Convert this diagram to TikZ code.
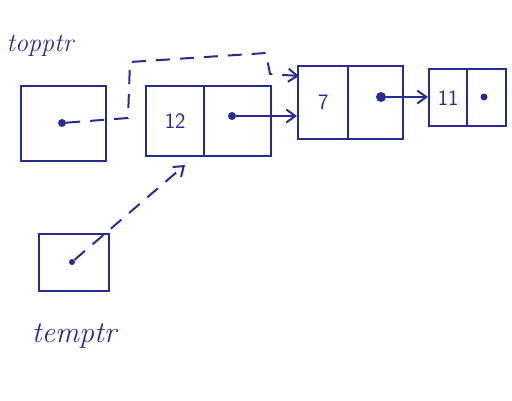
\documentclass[tikz,border=0pt]{standalone}
\usetikzlibrary{arrows.meta}
\definecolor{inkblue}{RGB}{38,44,150}
\begin{document}
\begin{tikzpicture}[x=1pt,y=-1pt,
  ink/.style={draw=inkblue, line width=2.4pt},
  cell/.style={ink, anchor=north west, inner sep=0pt, text=inkblue, font=\sffamily\fontsize{22}{24}\selectfont},
  dotp/.style={circle, fill=inkblue, inner sep=0pt, minimum size=8pt},
  ptr/.style={draw=inkblue, line width=2pt, -{Straight Barb[length=9pt,width=13pt]}},
  dptr/.style={ptr, dash pattern=on 14pt off 10pt},
  lbl/.style={text=inkblue}]
\useasboundingbox (0,0) rectangle (512,400);
% labels
\node[lbl, font=\itshape\fontsize{26}{28}\selectfont] (ltop) at (40,46) {topptr};
\node[lbl, font=\itshape\fontsize{30}{32}\selectfont] (ltemp) at (74,336) {temptr};
% pointer boxes
\node[cell, minimum width=85pt, minimum height=75pt] (top) at (20,85) {};
\node[cell, minimum width=70pt, minimum height=57pt] (temp) at (38,233) {};
% list nodes
\node[cell, minimum width=58pt, minimum height=70pt] (n12l) at (145,85) {12};
\node[cell, minimum width=67pt, minimum height=70pt] (n12r) at (203,85) {};
\node[cell, minimum width=50pt, minimum height=73pt] (n7l) at (297,65) {7};
\node[cell, minimum width=55pt, minimum height=73pt] (n7r) at (347,65) {};
\node[cell, minimum width=38pt, minimum height=57pt] (n11l) at (428,68) {11};
\node[cell, minimum width=39pt, minimum height=57pt] (n11r) at (466,68) {};
% dots
\node[dotp] (dtop) at (62,123) {};
\node[dotp, minimum size=6pt] (dtemp) at (72,262) {};
\node[dotp] (d12) at (232,116) {};
\node[dotp, minimum size=10pt] (d7) at (381,97) {};
\node[dotp, minimum size=7pt] (d11) at (484,97) {};
% connectors
\draw[ptr] (d12) -- (d12 -| n7l.west);
\draw[ptr] (d7) -- (d7 -| n11l.west);
\coordinate (a1) at (128,118);
\coordinate (a2) at (130,62);
\coordinate (a3) at (266,53);
\coordinate (a4) at (270,74);
\coordinate (a5) at (299,76);
\draw[dptr] (dtop) -- (a1) -- (a2) -- (a3) -- (a4) -- (a5);
\coordinate (b1) at (185,165);
\draw[dptr] (dtemp) -- (b1);
\end{tikzpicture}
\end{document}
